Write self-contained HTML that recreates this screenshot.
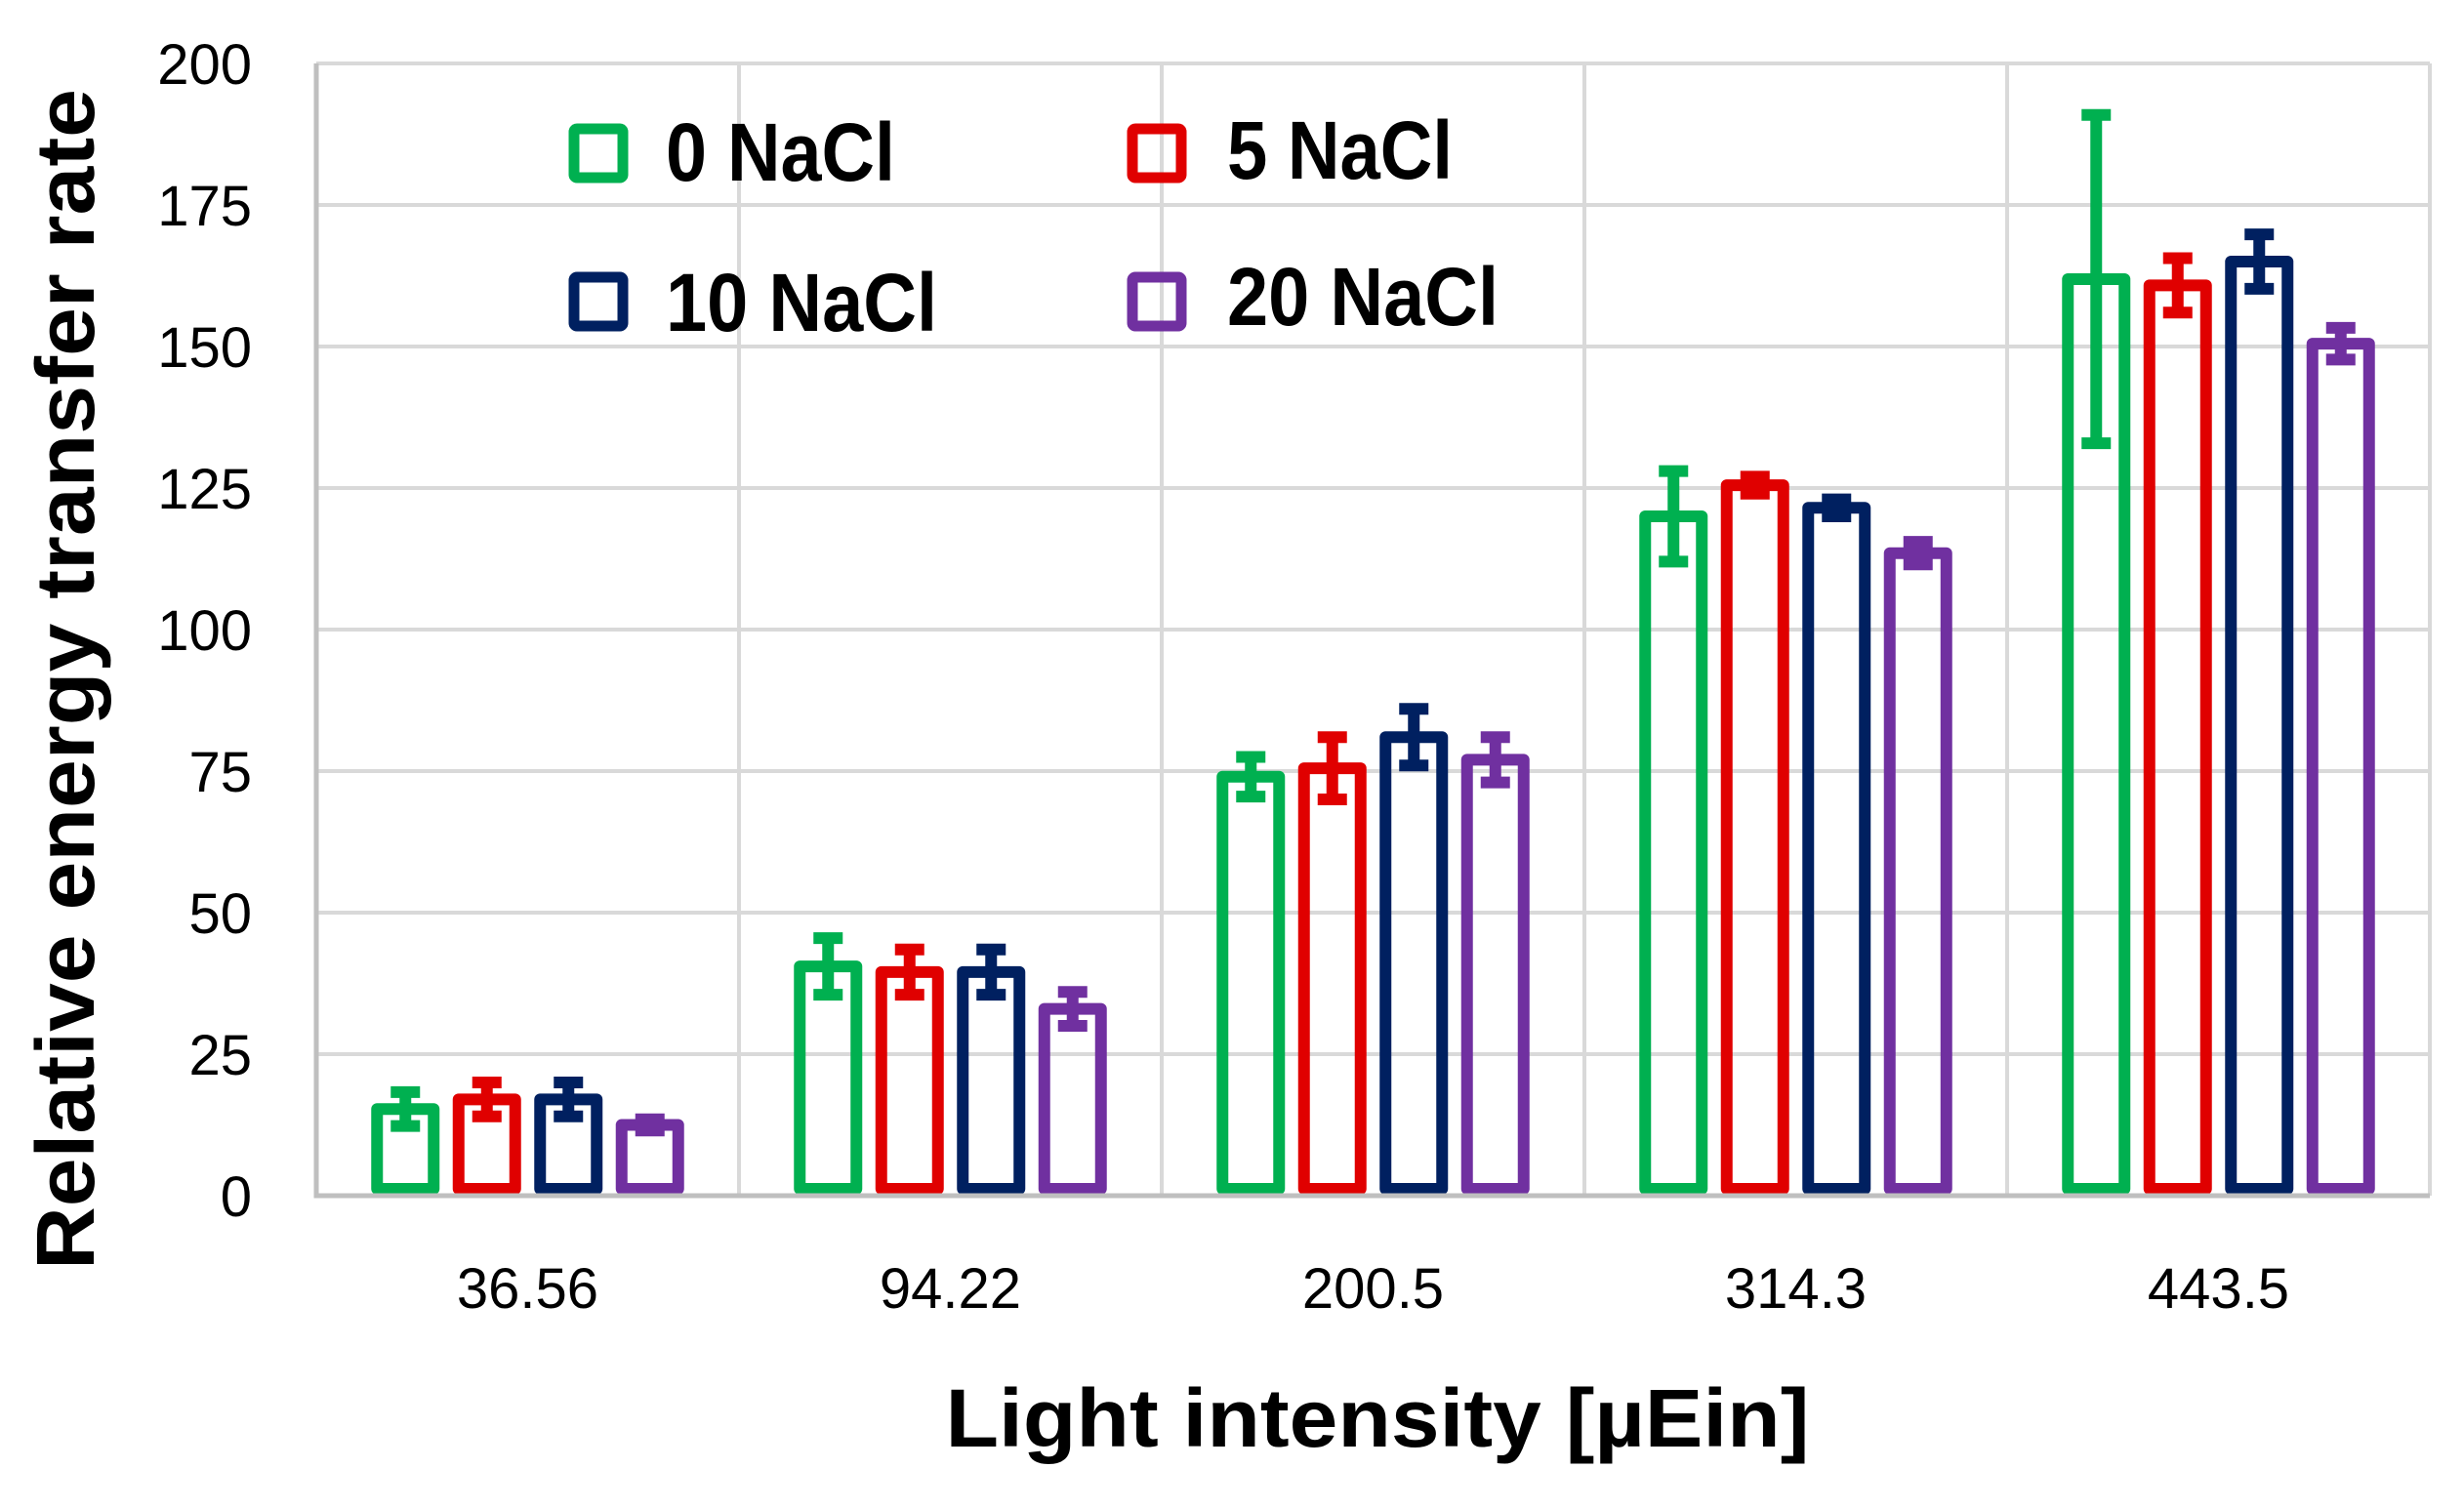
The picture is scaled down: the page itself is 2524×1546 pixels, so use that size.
<!DOCTYPE html>
<html><head><meta charset="utf-8"><style>
html,body{margin:0;padding:0;background:#fff;}
svg{display:block;}
text{font-family:"Liberation Sans",sans-serif;}
</style></head><body>
<svg id="chart" width="2524" height="1546" viewBox="0 0 2524 1546" xmlns="http://www.w3.org/2000/svg">
<g id="grid"></g>
<g id="bars"></g>
<g id="axes"></g>
<g id="legend"></g>
<text transform="translate(96,696) rotate(-90)" text-anchor="middle" font-weight="bold" font-size="84" textLength="1210" lengthAdjust="spacingAndGlyphs">Relative energy transfer rate</text>
<text x="1411" y="1482" text-anchor="middle" font-weight="bold" font-size="84" textLength="885" lengthAdjust="spacingAndGlyphs">Light intensity [µEin]</text>
</svg>
<script>
const categories = ["36.56","94.22","200.5","314.3","443.5"];
const seriesNames = ["0 NaCl","5 NaCl","10 NaCl","20 NaCl"];
const s0 = [15.3, 40.5, 74, 120, 161.9];
const s0err = [3, 5, 3.5, 8, 29];
const s5 = [17, 39.5, 75.5, 125.5, 160.8];
const s5err = [3, 4, 5.5, 1.5, 4.8];
const s10 = [17, 39.5, 81, 121.5, 165];
const s10err = [3, 4, 5, 1.5, 4.8];
const s20 = [12.5, 33, 77, 113.5, 150.5];
const s20err = [1, 3, 4, 2, 2.8];
const yTicks = [0,25,50,75,100,125,150,175,200];

const series=[s0,s5,s10,s20], errs=[s0err,s5err,s10err,s20err];
const colors=["#00b050","#e00000","#002060","#7030a0"];
const NS="http://www.w3.org/2000/svg";
const L=324,R=2489,T=65,B=1225;
const yMax=200;
function y(v){return B-(v/yMax)*(B-T);}
const cw=(R-L)/categories.length;
function xc(i){return L+cw*(i+0.5);}
function mk(tag,attrs,parent){const e=document.createElementNS(NS,tag);for(const k in attrs)e.setAttribute(k,attrs[k]);parent.appendChild(e);return e;}
const grid=document.getElementById('grid'),bars=document.getElementById('bars'),axes=document.getElementById('axes'),legend=document.getElementById('legend');
yTicks.forEach(t=>{
  const l=mk('line',{x1:L,x2:R,y1:y(t),y2:y(t),stroke:'#d9d9d9','stroke-width':4},grid);
  
  
  const tx=mk('text',{x:258,y:y(t)+21,'text-anchor':'end','font-size':58},axes);
  tx.textContent=t;
  
  
});
for(let i=0;i<=categories.length;i++){
  const gx=L+cw*i;
  const l=mk('line',{x1:gx,x2:gx,y1:T,y2:B,stroke:'#d9d9d9','stroke-width':4},grid);
  
  
}
categories.forEach((c,i)=>{
  const tx=mk('text',{x:xc(i),y:1340,'text-anchor':'middle','font-size':58},axes);
  tx.textContent=c;
  
  
});
const step=83.5,bw=58;
series.forEach((s,k)=>{
  s.forEach((v,i)=>{
    const cx=xc(i)+(k-1.5)*step;
    const r=mk('rect',{x:cx-bw/2,y:y(v),width:bw,height:Math.max(0,B-7-y(v)),fill:'none',stroke:colors[k],'stroke-width':12,'stroke-linejoin':'round'},bars);
    
    
    const e=errs[k][i];
    const g=mk('path',{d:`M${cx} ${y(v+e)}V${y(v-e)}M${cx-15} ${y(v+e)}H${cx+15}M${cx-15} ${y(v-e)}H${cx+15}`,stroke:colors[k],'stroke-width':12,fill:'none'},bars);
    
    
  });
});
const ax=mk('path',{d:`M${L} ${T}V${B}H${R}`,stroke:'#bfbfbf','stroke-width':5,fill:'none'},axes);


const legPos=[[613,157,682,185,235],[1185,157,1257,183,231],[613,309,682,339,278],[1185,309,1257,333,278]];
seriesNames.forEach((n,k)=>{
  const p=legPos[k];
  const m=mk('rect',{x:p[0]-25,y:p[1]-25,width:50,height:50,fill:'none',stroke:colors[k],'stroke-width':11,rx:3},legend);
  
  
  const t=mk('text',{x:p[2],y:p[3],'font-size':84,'font-weight':'bold',textLength:p[4],lengthAdjust:'spacingAndGlyphs'},legend);
  t.textContent=n;
  
  
});
</script>
</body></html>
